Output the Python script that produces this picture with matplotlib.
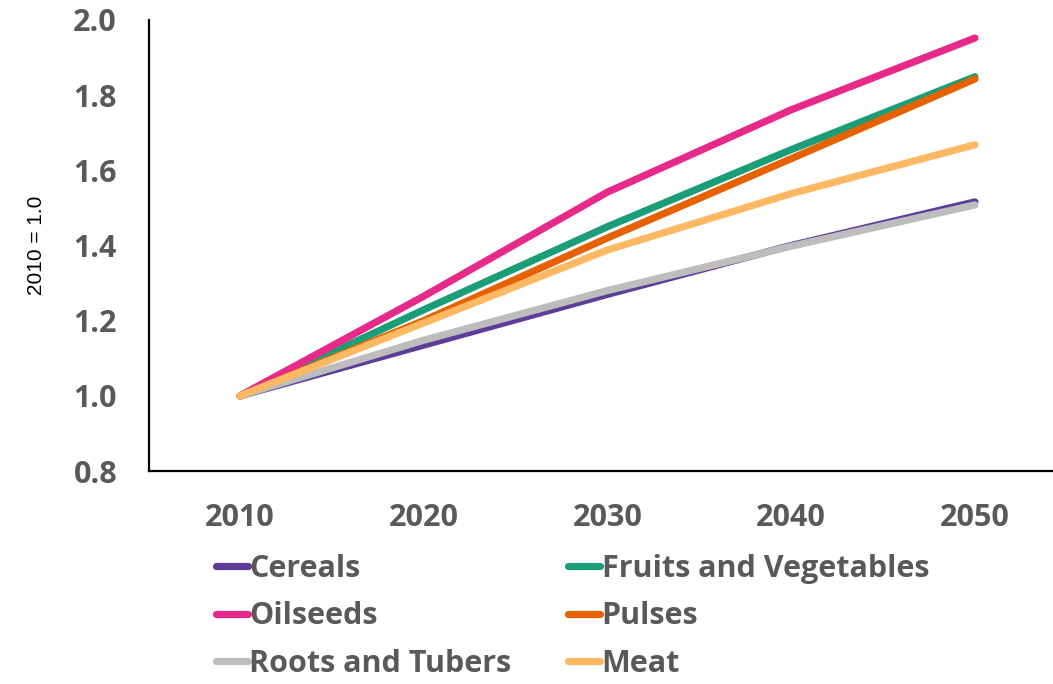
import matplotlib.pyplot as plt

years = [2010, 2020, 2030, 2040, 2050]

cereals = [1.0, 1.135, 1.270, 1.400, 1.516]
fruits_veg = [1.0, 1.229, 1.450, 1.655, 1.849]
oilseeds = [1.0, 1.265, 1.542, 1.761, 1.952]
pulses = [1.0, 1.200, 1.420, 1.631, 1.843]
roots_tubers = [1.0, 1.148, 1.280, 1.398, 1.508]
meat = [1.0, 1.194, 1.388, 1.538, 1.668]

series = [
    ("Cereals", cereals, "#5E3C99"),
    ("Fruits and Vegetables", fruits_veg, "#1B9E77"),
    ("Oilseeds", oilseeds, "#E7298A"),
    ("Pulses", pulses, "#E66101"),
    ("Roots and Tubers", roots_tubers, "#BDBDBD"),
    ("Meat", meat, "#FDB863"),
]

text_color = "#595959"
bold_font = "Open Sans"

fig = plt.figure(figsize=(10.53, 6.84), dpi=100)
ax = fig.add_axes([0.1415, 0.3114, 0.8585, 0.6594])

handles = {}
for name, vals, color in series:
    line, = ax.plot(years, vals, color=color, lw=5.2, solid_capstyle="round", label=name)
    handles[name] = line

ax.set_xlim(2005.05, 2054.25)
ax.set_ylim(0.8, 2.0)
ax.set_xticks(years)
ax.set_yticks([0.8, 1.0, 1.2, 1.4, 1.6, 1.8, 2.0])
ax.set_yticklabels([f"{v:.1f}" for v in ax.get_yticks()])

for side in ("top", "right"):
    ax.spines[side].set_visible(False)
for side in ("left", "bottom"):
    ax.spines[side].set_linewidth(1.6)
    ax.spines[side].set_color("black")

ax.tick_params(length=0, labelsize=22, labelcolor=text_color)
ax.tick_params(axis="x", pad=23)
ax.tick_params(axis="y", pad=23)
for lbl in ax.get_xticklabels() + ax.get_yticklabels():
    lbl.set_fontfamily(bold_font)
    lbl.set_fontweight("bold")

ax.set_ylabel("2010 = 1.0", fontsize=15, family="Liberation Sans", labelpad=20)

# legend is row-major in two columns
order = ["Cereals", "Oilseeds", "Roots and Tubers", "Fruits and Vegetables", "Pulses", "Meat"]
leg = fig.legend([handles[n] for n in order], order, ncol=2,
                 loc="upper left", bbox_to_anchor=(0.1905, 0.213),
                 frameon=False, handlelength=1.05, handletextpad=0.05,
                 columnspacing=1.85, labelspacing=0.58, borderpad=0,
                 prop={"family": bold_font, "weight": "bold", "size": 22})
for t in leg.get_texts():
    t.set_color(text_color)

fig.savefig("out.png", dpi=100)
